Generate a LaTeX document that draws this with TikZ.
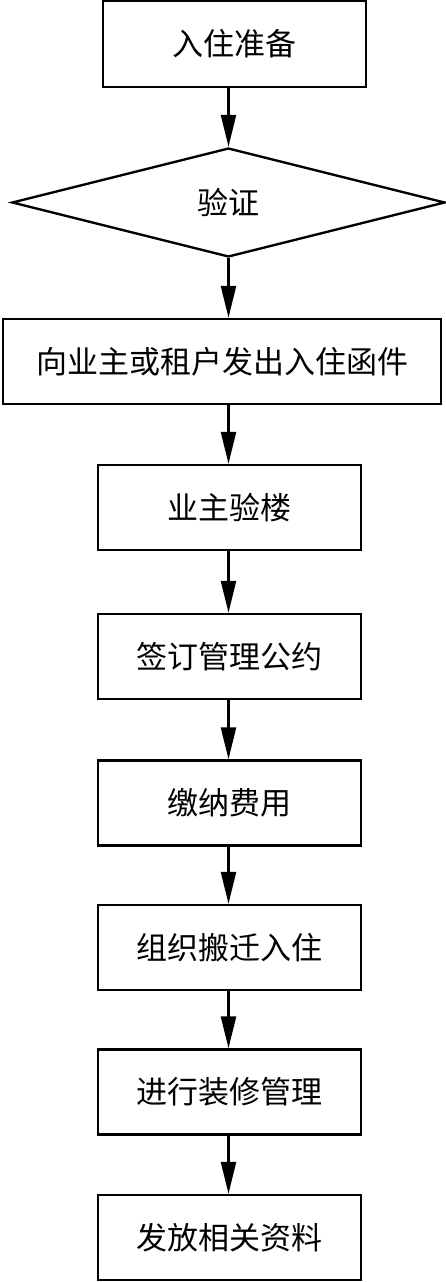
\documentclass[tikz,border=0pt]{standalone}
\usepackage{fontspec}
\newfontfamily\cjk{Noto Sans CJK SC}
\usetikzlibrary{shapes.geometric,arrows.meta}

\begin{document}
\begin{tikzpicture}[x=1pt, y=-1pt, line width=2.4pt,
  every node/.style={font=\cjk\fontsize{31}{36}\selectfont, inner sep=0pt},
  stepbox/.style={draw, rectangle, minimum width=263pt, minimum height=85pt},
  arr/.style={-{Triangle[length=32pt,width=15pt]}}]
 \useasboundingbox (0,0) rectangle (446,1282);

 \node[stepbox, minimum height=86pt] (prep) at (234.5,44) {入住准备};
 \node[draw, diamond, aspect=4, minimum width=433pt, minimum height=109pt] (check) at (228.5,202.5) {验证};
 \node[stepbox, minimum width=438pt] (letter) at (222,361.5) {向业主或租户发出入住函件};
 \foreach \n/\y/\t in {insp/507.5/业主验楼, pact/656.5/签订管理公约, fee/803/缴纳费用,
                      move/947.5/组织搬迁入住, deco/1092/进行装修管理, docs/1237.5/发放相关资料}
   \node[stepbox] (\n) at (229.5,\y) {\t};

 \draw[arr] (prep.south -| check) -- (check.north);
 \foreach \a/\b in {check/letter, letter/insp, insp/pact, pact/fee, fee/move, move/deco, deco/docs}
   \draw[arr] (\a.south -| check) -- (\b.north -| check);
\end{tikzpicture}
\end{document}
